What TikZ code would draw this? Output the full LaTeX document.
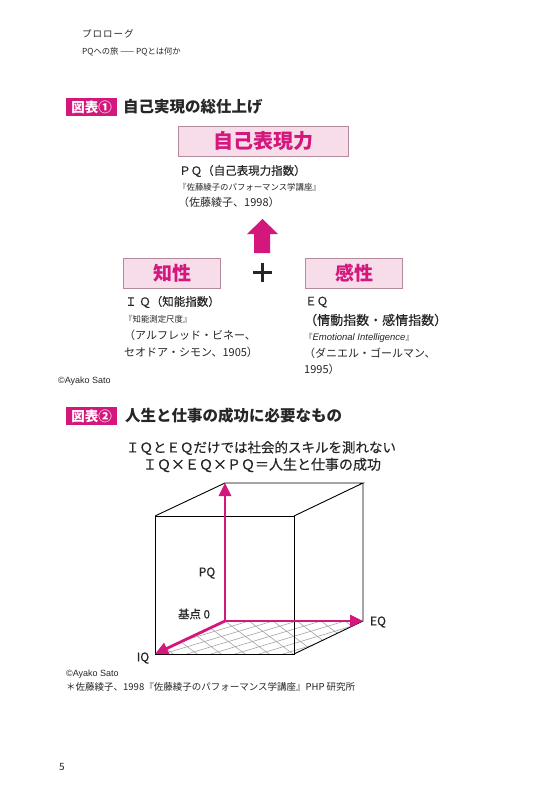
\documentclass[tikz,border=0pt]{standalone}
\usepackage{fontspec}
\setmainfont{Noto Sans CJK JP}
\newfontfamily\med[FakeBold=0.3]{Noto Sans CJK JP}
\newfontfamily\lat{Liberation Sans}
\usetikzlibrary{arrows.meta}
\definecolor{mag}{HTML}{D4177C}
\definecolor{pinkfill}{HTML}{F7DDE9}
\definecolor{pinkedge}{HTML}{B48A9C}
\definecolor{gridgray}{HTML}{A0A0A0}
\newcommand{\fs}[1]{\fontsize{#1}{#1}\selectfont}
\begin{document}
\begin{tikzpicture}[x=1pt,y=-1pt,
  txt/.style={anchor=west,inner sep=0pt,text=black!85},
  headline/.style={txt,font=\med\fs{11.5}},
  booktitle/.style={txt,font=\fs{8.4}},
  subline/.style={txt,font=\fs{11}},
  badge/.style={fill=mag,text=white,inner sep=0pt,minimum width=51pt,minimum height=18pt,font=\bfseries\fs{13.5}},
  titletxt/.style={txt,font=\bfseries\fs{15.5}},
  pbox/.style={draw=pinkedge,fill=pinkfill,line width=0.8pt,text=mag,inner sep=0pt,font=\bfseries\fs{20}},
  edge/.style={line width=0.9pt,black},
  axis/.style={line width=2.8pt,mag,-{Triangle[length=13pt,width=12pt]}},
  gridl/.style={gridgray,line width=0.55pt},
  axlab/.style={inner sep=0pt,font=\med\fs{12},text=black!85}]
\useasboundingbox (0,0) rectangle (550,800);
\fill[white] (0,0) rectangle (550,800);

% header
\node[txt,font=\fs{9.5}\addfontfeature{LetterSpace=10}] (hdr1) at (82,34) {プロローグ};
\node[txt,font=\fs{8.3}] (hdr2) at (82,52) {PQへの旅 —— PQとは何か};

% figure 1
\node[badge] (b1) at (91.5,107) {図表①};
\node[titletxt] (t1) at (123,107) {自己実現の総仕上げ};
\node[pbox,minimum width=170pt,minimum height=30pt] (pq) at (263,141) {自己表現力};
\node[headline] (pq1) at (179,171) {ＰＱ（自己表現力指数）};
\node[booktitle] (pq2) at (178,187) {『佐藤綾子のパフォーマンス学講座』};
\node[subline] (pq3) at (178,202) {（佐藤綾子、1998）};

\fill[mag] (254,253) -- (254,234) -- (247,234) -- (262.5,219) -- (278,234) -- (270,234) -- (270,253) -- cycle;
\draw[line width=3pt,black!85] (253,272) -- (272,272) (262.5,262.5) -- (262.5,281.5);

\node[pbox,minimum width=97pt,minimum height=30pt,font=\bfseries\fs{19}] (iqbox) at (172,273) {知性};
\node[pbox,minimum width=97pt,minimum height=30pt,font=\bfseries\fs{19}] (eqbox) at (354,273) {感性};

\node[headline] (iq1) at (125,302) {Ｉ Ｑ（知能指数）};
\node[booktitle] (iq2) at (124,319) {『知能測定尺度』};
\node[subline] (iq3) at (124,335) {（アルフレッド・ビネー、};
\node[subline] (iq4) at (124,352) {セオドア・シモン、1905）};

\node[headline] (eq1) at (305,302) {ＥＱ};
\node[headline,font=\med\fs{13}] (eq2) at (304,320) {（情動指数・感情指数）};
\node[booktitle] (eq3) at (304,338) {『{\lat\itshape\fs{9.5}Emotional Intelligence}』};
\node[subline] (eq4) at (304,353) {（ダニエル・ゴールマン、};
\node[subline] (eq5) at (304,369) {1995）};

\node[txt,font=\lat\fs{9}] (cp1) at (58,381) {©Ayako Sato};

% figure 2
\node[badge] (b2) at (91.5,416) {図表②};
\node[titletxt] (t2) at (125,416) {人生と仕事の成功に必要なもの};
\node[inner sep=0pt,font=\med\fs{13.5},text=black!85] (l1) at (261,448) {ＩＱとＥＱだけでは社会的スキルを測れない};
\node[inner sep=0pt,font=\med\fs{14},text=black!85] (l2) at (262,465) {ＩＱ×ＥＱ×ＰＱ＝人生と仕事の成功};

% cube
\coordinate (O) at (225,621);
\coordinate (P) at (225,483);
\coordinate (E) at (363,621);
\coordinate (I) at (155,654);
\coordinate (FTL) at (155,516);
\coordinate (FTR) at (294,516);
\coordinate (FBR) at (294,654);
\coordinate (BTR) at (363,483);

\begin{scope}
  \clip (O) -- (E) -- (FBR) -- (I) -- cycle;
  \foreach \k in {-10,...,10}{
    \pgfmathsetmacro{\xx}{225+24*\k}
    \draw[gridl] (\xx-100,621-75) -- (\xx+100,621+75);
    \draw[gridl] (\xx-200,621+60) -- (\xx+200,621-60);
  }
\end{scope}

\draw[edge] (FTL) -- (FTR) -- (FBR) -- (I) -- cycle;
\draw[edge] (FTL) -- (P) -- (BTR) -- (FTR);
\draw[edge] (BTR) -- (E) -- (FBR);

\draw[axis] (O) -- (P);
\draw[axis] (O) -- (E);
\draw[axis] (O) -- (I);

\node[axlab] (pqlab) at (207,573) {PQ};
\node[axlab,font=\med\fs{11.5}] (base) at (194,614) {基点 0};
\node[axlab] (eqlab) at (378,622) {EQ};
\node[axlab] (iqlab) at (143,658) {IQ};

% footer
\node[txt,font=\lat\fs{9}] (cp2) at (66,674) {©Ayako Sato};
\node[txt,font=\fs{9.5}] (ref) at (66,687) {＊佐藤綾子、1998『佐藤綾子のパフォーマンス学講座』PHP 研究所};
\node[inner sep=0pt,font=\fs{10},text=black!85] (pg) at (62,767) {5};
\end{tikzpicture}
\end{document}
